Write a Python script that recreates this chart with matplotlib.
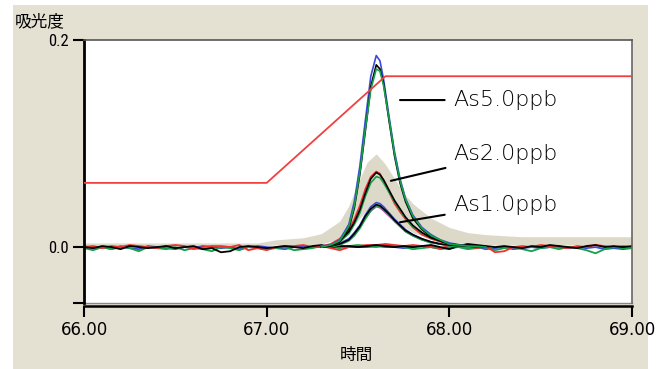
import numpy as np
import matplotlib
matplotlib.use("Agg")
import matplotlib.pyplot as plt
from matplotlib import font_manager
from matplotlib.patches import Rectangle

# ---- data (absorbance; peak/blank values in mAbs) ----
# temperature/program line (red)
prog_t = [66.00, 67.00, 67.65, 69.00]
prog_y = [0.062, 0.062, 0.165, 0.165]

# blank traces, sampled every 0.05 min from 66.00 to 69.00 (mAbs)
t_base = np.linspace(66.0, 69.0, 61)
blank_red = [0, 1, -1, 1, 0, 2, 1, 0, -1, 1,
             2, 1, -2, 0, 1, 1, 0, 2, -3, -1,
             -3, 0, 1, 1, 2, 0, 1, -1, -3, 0,
             1, 2, 2, 3, 2, 1, 2, 1, 0, -1,
             1, 0, 1, -1, 1, -5, -4, 0, 1, 0,
             2, 1, 0, -1, 1, 0, 2, 1, 0, 1,
             0]
blank_black = [0, -1, 1, 0, -2, 1, 0, -1, 0, 1,
               -1, 0, 1, -2, -1, -5, -4, 0, 1, 0,
               -1, 0, 1, 0, -1, 1, 2, 0, 1, 1,
               0, 1, 2, 1, 0, 1, 0, 1, 2, 0,
               -2, 1, 3, 2, 1, 0, 1, 0, -1, 1,
               0, 2, 1, 0, -1, 1, 2, 0, 1, 0,
               1]
blank_green = [-1, -3, 0, -2, 1, -1, -4, 0, -1, -2,
               0, -3, -1, -2, -4, 0, -1, -3, 0, -1,
               -2, -1, 0, -3, -2, -1, 1, 0, -1, 1,
               2, 1, 0, 2, 1, 0, -2, -1, 0, -2,
               -1, 0, -2, -1, 0, -3, -1, 0, -2, -4,
               -1, 0, -2, 0, -1, -3, -6, -2, 0, -1,
               -1]
blank_blue = [1, -1, 0, -2, 0, -1, -2, 1, 0, -1,
              -2, 0, -1, 1, 0, -1, 0, -2, 0, 1,
              0, -1, -2, 0, 1, 0, 0, 1, 0, 0,
              0, 0, 1, 0, 0, -1, 0, 1, 0, -1,
              0, 1, -1, 0, -2, -1, 0, -2, -1, 0,
              -1, 0, 1, -1, 0, -1, 0, -2, -1, -2,
              -1]

# light beige replicate band (mAbs)
t_beige = [66.00, 66.50, 66.95, 67.05, 67.20, 67.30, 67.40, 67.45, 67.50, 67.55, 67.60, 67.65,
           67.70, 67.75, 67.80, 67.90, 68.00, 68.10, 68.20, 68.40, 68.60, 68.80, 69.00]
beige_hi = [4, 4, 4, 7, 9, 13, 25, 40, 62, 82, 90, 80, 66, 52, 42, 28, 19, 14, 12, 10, 10, 10, 10]
beige_lo = [1, 1, 1, 2, 2, 3, 8, 15, 26, 36, 40, 36, 28, 20, 14, 8, 5, 3, 2, 2, 2, 2, 2]

# peaks (mAbs)
t_peak = [67.30, 67.35, 67.40, 67.45, 67.48, 67.51, 67.54, 67.57, 67.60, 67.62, 67.64,
          67.67, 67.70, 67.73, 67.76, 67.80, 67.85, 67.90, 67.95, 68.00, 68.10, 68.20]
as5_black = [0, 1, 5, 18, 38, 70, 112, 155, 176, 172, 158, 122, 88, 62, 44, 28, 17, 10, 6, 3, 1, 0]
as5_green = [0, 2, 6, 20, 40, 72, 114, 152, 172, 170, 156, 124, 90, 64, 46, 30, 18, 11, 7, 3, 1, 0]
as5_blue = [1, 2, 7, 22, 44, 78, 122, 165, 185, 180, 162, 126, 92, 66, 47, 31, 19, 12, 7, 4, 1, 0]
as2_black = [0, 2, 6, 15, 24, 36, 52, 66, 72, 70, 65, 55, 45, 37, 29, 21, 14, 9, 6, 3, 1, 0]
as2_red = [1, 3, 8, 17, 27, 40, 56, 68, 73, 71, 64, 53, 42, 34, 27, 19, 12, 8, 5, 3, 1, 0]
as2_green = [0, 1, 5, 13, 22, 33, 49, 62, 68, 67, 62, 53, 44, 36, 28, 20, 14, 9, 6, 3, 1, 0]
as1_blue = [0, 1, 3, 8, 14, 21, 31, 39, 43, 42, 39, 33, 27, 22, 17, 12, 8, 5, 3, 2, 1, 0]
as1_magenta = [0, 2, 4, 8, 13, 20, 28, 35, 39, 38, 35, 30, 25, 20, 15, 11, 7, 5, 3, 1, 0, 0]
as1_green = [0, 0, 2, 6, 11, 18, 27, 35, 40, 39, 36, 31, 25, 20, 15, 11, 7, 4, 3, 1, 0, 0]
as1_black = [0, 1, 3, 7, 13, 20, 30, 37, 41, 40, 37, 32, 26, 21, 16, 12, 8, 5, 3, 2, 1, 0]

labels = ["As5.0ppb", "As2.0ppb", "As1.0ppb"]
xticks = [66.0, 67.0, 68.0, 69.0]
xticklabels = ["66.00", "67.00", "68.00", "69.00"]

# ---- fonts ----
fl = font_manager.fontManager.ttflist
names = {f.name for f in fl}
tick_kw = {"family": "Roboto" if "Roboto" in names else "DejaVu Sans"}
for cand in ["Liberation Sans Narrow", "Roboto Condensed", "Open Sans Condensed"]:
    if cand in names:
        tick_kw = {"family": cand}
        break
else:
    if any(f.name == "DejaVu Sans" and f.stretch == "condensed" for f in fl):
        tick_kw = {"family": "DejaVu Sans", "stretch": "condensed"}
jp = ["Noto Sans CJK JP", "DejaVu Sans"]

fig = plt.figure(figsize=(6.6, 3.69), dpi=100)
fig.patch.set_facecolor("white")
fig.patches.append(Rectangle((13 / 660, 0), (648 - 13) / 660, 1 - 5 / 369,
                             transform=fig.transFigure, facecolor="#e4e0d2",
                             edgecolor="none", zorder=-10))

ax = fig.add_axes([84 / 660, 1 - 303 / 369, (632 - 84) / 660, (303 - 40) / 369])
ax.set_facecolor("white")

m = 1000.0
ax.fill_between(t_beige, np.array(beige_lo) / m, np.array(beige_hi) / m,
                color="#ddd9c9", lw=0, zorder=1)

for ys, c in [(blank_blue, "#3b4bd8"), (blank_green, "#15a04a"),
              (blank_red, "#f03030"), (blank_black, "black")]:
    ax.plot(t_base, np.array(ys) / m, color=c, lw=1.3, zorder=2)

peaks = [(as1_magenta, "#c04cc8"), (as1_blue, "#3b4bd8"), (as1_green, "#15a04a"),
         (as1_black, "black"), (as2_red, "#f03030"), (as2_green, "#15a04a"),
         (as2_black, "black"), (as5_blue, "#3b4bd8"), (as5_black, "black"),
         (as5_green, "#15a04a")]
for ys, c in peaks:
    ax.plot(t_peak, np.array(ys) / m, color=c, lw=1.2, zorder=3)

ax.plot(prog_t, prog_y, color="#f04040", lw=1.3, zorder=4)

# labels with leader lines
ann = [((67.73, 0.142), (68.02, 0.142)),
       ((67.68, 0.064), (68.02, 0.090)),
       ((67.73, 0.024), (68.02, 0.041))]
for lab, (p, q) in zip(labels, ann):
    ax.annotate(lab, xy=p, xytext=q, fontsize=16, va="center", ha="left",
                family="DejaVu Sans", fontweight="light",
                arrowprops=dict(arrowstyle="-", color="black", lw=1.5,
                                shrinkA=4, shrinkB=0), zorder=5)

ax.set_xlim(66.0, 69.0)
ax.set_ylim(-0.054, 0.2)
ax.set_xticks(xticks)
ax.set_xticklabels(xticklabels)
ax.set_yticks([-0.054, 0.0, 0.2])
ax.set_yticklabels(["", "0.0", "0.2"])
ax.tick_params(axis="both", direction="out", length=8, width=1.5, colors="black",
               labelsize=12, pad=3)
for t in ax.get_xticklabels() + ax.get_yticklabels():
    t.set_family(tick_kw["family"])
    if "stretch" in tick_kw:
        t.set_stretch(tick_kw["stretch"])

ax.spines["left"].set_linewidth(2)
ax.spines["left"].set_color("black")
ax.spines["bottom"].set_position(("outward", 2))
ax.spines["bottom"].set_linewidth(1.8)
ax.spines["top"].set_color("#555555")
ax.spines["top"].set_linewidth(1.2)
ax.spines["right"].set_color("#666666")
ax.spines["right"].set_linewidth(1.2)
ax.plot([0, 1], [0, 0], transform=ax.transAxes, color="#888888", lw=1, clip_on=False)

fig.text(15 / 660, 1 - 22 / 369, "吸光度", family=jp, fontsize=12, va="center", ha="left")
fig.text(356 / 660, 1 - 355 / 369, "時間", family=jp, fontsize=12, va="center", ha="center")

fig.savefig("out.png", dpi=100)
